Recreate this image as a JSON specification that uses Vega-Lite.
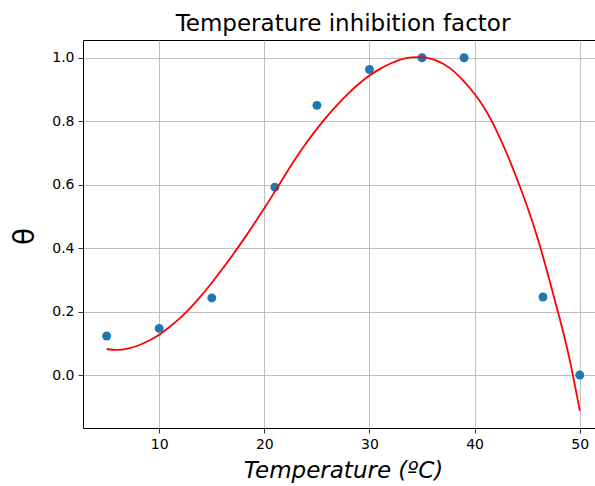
{
  "$schema": "https://vega.github.io/schema/vega-lite/v6.json",
  "autosize": {"type": "none"},
  "padding": {"left": 83, "top": 40, "right": 0, "bottom": 58},
  "width": 512,
  "height": 388,
  "background": "white",
  "config": {
    "font": "DejaVu Sans",
    "view": {"stroke": "black", "strokeWidth": 1},
    "axis": {
      "grid": true,
      "gridColor": "#b0b0b0",
      "gridWidth": 0.8,
      "domain": false,
      "tickColor": "black",
      "tickSize": 5,
      "tickWidth": 0.8,
      "labelFont": "DejaVu Sans",
      "labelFontSize": 14,
      "labelColor": "black",
      "labelPadding": 4
    }
  },
  "title": {
    "text": "Temperature inhibition factor",
    "font": "DejaVu Sans",
    "fontSize": 23,
    "fontWeight": "normal",
    "color": "black",
    "offset": 4,
    "dx": 4
  },
  "datasets": {
    "obs": [
      {"T": 5, "theta": 0.123},
      {"T": 10, "theta": 0.147},
      {"T": 15, "theta": 0.243},
      {"T": 21, "theta": 0.592},
      {"T": 25, "theta": 0.85},
      {"T": 30, "theta": 0.963},
      {"T": 35, "theta": 1.0},
      {"T": 39, "theta": 1.0},
      {"T": 46.5, "theta": 0.246},
      {"T": 50, "theta": 0.0}
    ],
    "fit": [
      {"T": 5, "theta": 0.082},
      {"T": 6, "theta": 0.079},
      {"T": 7, "theta": 0.083},
      {"T": 8, "theta": 0.093},
      {"T": 9, "theta": 0.108},
      {"T": 10, "theta": 0.127},
      {"T": 11, "theta": 0.152},
      {"T": 12, "theta": 0.18},
      {"T": 13, "theta": 0.213},
      {"T": 14, "theta": 0.25},
      {"T": 15, "theta": 0.291},
      {"T": 16, "theta": 0.334},
      {"T": 17, "theta": 0.379},
      {"T": 18, "theta": 0.426},
      {"T": 19, "theta": 0.475},
      {"T": 20, "theta": 0.526},
      {"T": 21, "theta": 0.578},
      {"T": 22, "theta": 0.632},
      {"T": 23, "theta": 0.684},
      {"T": 24, "theta": 0.732},
      {"T": 25, "theta": 0.776},
      {"T": 26, "theta": 0.817},
      {"T": 27, "theta": 0.854},
      {"T": 28, "theta": 0.888},
      {"T": 29, "theta": 0.918},
      {"T": 30, "theta": 0.944},
      {"T": 31, "theta": 0.965},
      {"T": 32, "theta": 0.982},
      {"T": 33, "theta": 0.995},
      {"T": 34, "theta": 1.001},
      {"T": 35, "theta": 1.002},
      {"T": 36, "theta": 0.996},
      {"T": 37, "theta": 0.981},
      {"T": 38, "theta": 0.958},
      {"T": 39, "theta": 0.925},
      {"T": 40, "theta": 0.886},
      {"T": 41, "theta": 0.838},
      {"T": 42, "theta": 0.776},
      {"T": 43, "theta": 0.703},
      {"T": 44, "theta": 0.621},
      {"T": 45, "theta": 0.531},
      {"T": 46, "theta": 0.43},
      {"T": 47, "theta": 0.314},
      {"T": 48, "theta": 0.19},
      {"T": 49, "theta": 0.055},
      {"T": 50, "theta": -0.112}
    ]
  },
  "encoding": {
    "x": {
      "field": "T",
      "type": "quantitative",
      "scale": {"domain": [2.75, 51.45], "nice": false, "zero": false},
      "axis": {
        "values": [10, 20, 30, 40, 50],
        "format": "d",
        "title": "Temperature (ºC)",
        "titleFont": "DejaVu Sans",
        "titleFontSize": 23,
        "titleFontWeight": "normal",
        "titleFontStyle": "italic",
        "titleColor": "black",
        "titleBaseline": "alphabetic",
        "titleY": 49.5,
        "titleX": 260
      }
    },
    "y": {
      "field": "theta",
      "type": "quantitative",
      "scale": {"domain": [-0.167, 1.056], "nice": false, "zero": false},
      "axis": {
        "values": [0, 0.2, 0.4, 0.6, 0.8, 1.0],
        "format": ".1f",
        "title": "θ",
        "titleFont": "DejaVu Sans",
        "titleFontSize": 28,
        "titleFontWeight": "normal",
        "titleColor": "black",
        "titleAngle": -90,
        "titleAlign": "center",
        "titleBaseline": "middle",
        "titleX": -58,
        "titleY": 196
      }
    }
  },
  "layer": [
    {
      "data": {"name": "obs"},
      "mark": {"type": "point", "filled": true, "size": 80, "color": "#1f77b4", "opacity": 1}
    },
    {
      "data": {"name": "fit"},
      "mark": {"type": "line", "color": "red", "strokeWidth": 1.8, "interpolate": "natural"}
    }
  ]
}
